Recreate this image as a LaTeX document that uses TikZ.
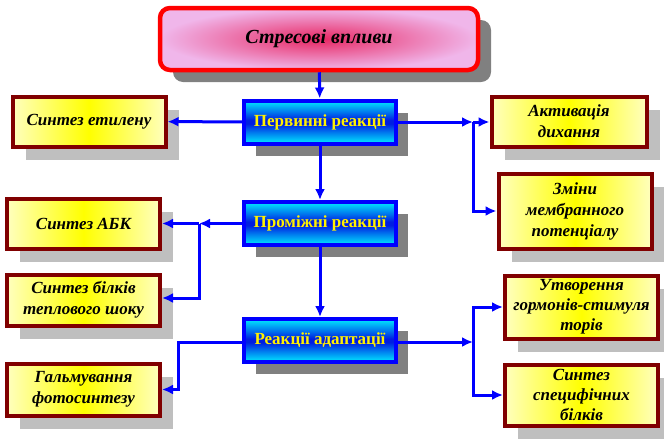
\documentclass[tikz,border=0pt]{standalone}
\usepackage{fontspec}
\setmainfont{Liberation Serif}
\usetikzlibrary{arrows.meta,shadows,calc}
\tikzset{>={Latex[length=11pt,width=10pt]}}
\definecolor{boxred}{RGB}{128,0,0}
\definecolor{stressin}{RGB}{232,40,100}
\definecolor{stressout}{RGB}{240,182,234}
\definecolor{reactin}{RGB}{0,30,225}
\definecolor{reactout}{RGB}{0,235,255}
\definecolor{paleyel}{RGB}{255,255,190}
\pgfdeclareverticalshading{reactshade}{100bp}{color(0bp)=(reactout); color(25bp)=(reactout); color(38bp)=(reactin!55!reactout); color(48bp)=(reactin); color(52bp)=(reactin); color(62bp)=(reactin!55!reactout); color(75bp)=(reactout); color(100bp)=(reactout)}
\tikzset{
  stressbox/.style={draw=red, line width=4.5pt, rounded corners=10pt, inner color=stressin, outer color=stressout,
    minimum width=318pt, minimum height=62pt, font=\fontsize{20}{24}\selectfont\bfseries\itshape,
    drop shadow={shadow xshift=13pt, shadow yshift=-12pt, fill=gray, opacity=1}},
  reaction/.style={draw=blue, line width=4pt, shading=reactshade, text=yellow,
    minimum width=152pt, minimum height=43pt, font=\fontsize{17}{20}\selectfont\bfseries,
    drop shadow={shadow xshift=12pt, shadow yshift=-12pt, fill=gray, opacity=1}},
  effect/.style={draw=boxred, line width=4pt, left color=paleyel, right color=paleyel, middle color=yellow,
    minimum width=153pt, align=center, inner sep=2pt, font=\fontsize{17}{21}\selectfont\bfseries\itshape,
    drop shadow={shadow xshift=13pt, shadow yshift=-13pt, fill=black!25, opacity=1}},
  link/.style={draw=blue, line width=3pt}
}
\begin{document}
\begin{tikzpicture}[x=1pt,y=-1pt]
\useasboundingbox (0,0) rectangle (664,440);
% central column
\node[stressbox] (stress) at (319,39) {Стресові впливи};
\node[reaction] (prim) at (320,122) {Первинні реакції};
\node[reaction] (inter) at (320,223.5) {Проміжні реакції};
\node[reaction] (adapt) at (320,340.5) {Реакції адаптації};
% left side
\node[effect, minimum height=50pt] (ethyl) at (89,121.5) {Синтез етилену};
\node[effect, minimum height=50pt] (abk) at (83.5,223.5) {Синтез АБК};
\node[effect, minimum height=51pt] (hsp) at (83.5,300) {Синтез білків\\теплового шоку};
\node[effect, minimum height=52pt] (photo) at (83.5,389.5) {Гальмування\\фотосинтезу};
% right side
\node[effect, minimum height=50pt, minimum width=155pt] (resp) at (569,121.5) {Активація\\дихання};
\node[effect, minimum height=75pt] (memb) at (575,211) {Зміни\\мембранного\\потенціалу};
\node[effect, minimum height=63pt, font=\fontsize{17}{20}\selectfont\bfseries\itshape] (horm) at (581.5,307) {Утворення\\гормонів-стимуля\\торів};
\node[effect, minimum height=61pt, font=\fontsize{17}{20}\selectfont\bfseries\itshape] (prot) at (581.5,395) {Синтез\\специфічних\\білків};
% branch points
\coordinate (b1) at (473,122);
\coordinate (b2) at (199,223.5);
\coordinate (b3) at (473,342);
\coordinate (b4) at (178,342);
% connectors
\draw[link,->] (stress) -- (prim);
\draw[link,->] (prim) -- (inter);
\draw[link,->] (inter) -- (adapt);
\draw[link,->] (prim) -- (ethyl);
\draw[link,->] (prim.east |- b1) -- (b1);
\draw[link,->] (b1) -- (resp.west |- b1);
\draw[link,->] (b1) |- (memb.west);
\draw[link,->] (inter) -- (b2);
\draw[link,->] (b2) -- (abk);
\draw[link,->] (b2) |- ($(hsp.east)+(0,-2)$);
\draw[link,->] (adapt.west |- b4) -- (b4) |- (photo.east);
\draw[link,->] (adapt.east |- b3) -- (b3);
\draw[link,->] (b3) |- (horm.west);
\draw[link,->] (b3) |- (prot.west);
\end{tikzpicture}
\end{document}
